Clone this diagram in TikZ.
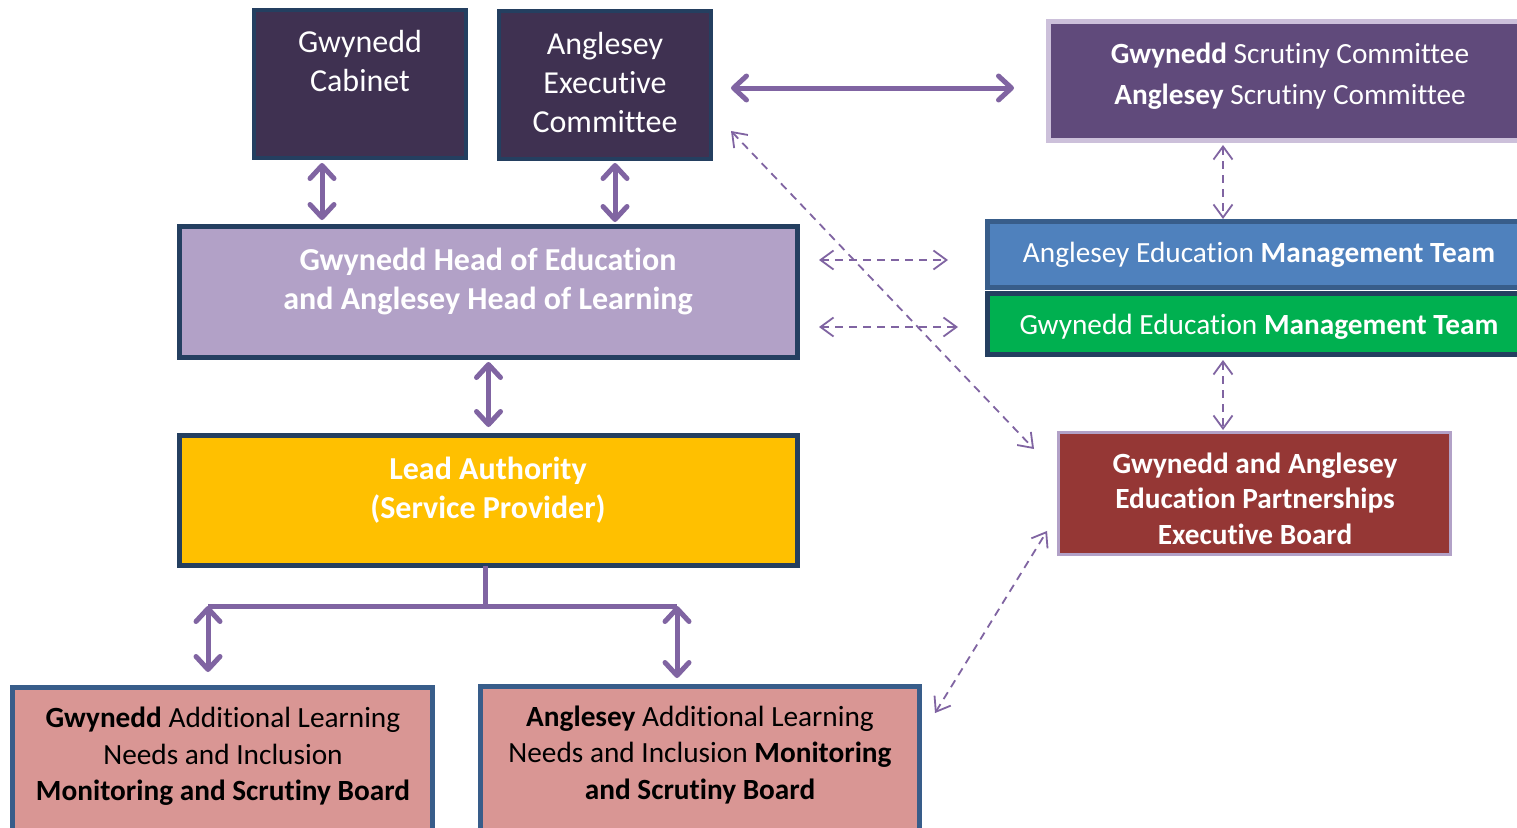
\documentclass[tikz,border=0pt]{standalone}
\usepackage{fontspec}
\setmainfont{Carlito}[Ligatures=NoCommon]
\usetikzlibrary{arrows.meta,calc}
\definecolor{navy}{HTML}{243F60}
\definecolor{cabc}{HTML}{3F3151}
\definecolor{scrc}{HTML}{604A7B}
\definecolor{scrb}{HTML}{CCC0DA}
\definecolor{headc}{HTML}{B2A1C7}
\definecolor{leadc}{HTML}{FFC000}
\definecolor{aemtc}{HTML}{4F81BD}
\definecolor{blueb}{HTML}{385D8A}
\definecolor{gemtc}{HTML}{00B050}
\definecolor{boardc}{HTML}{953735}
\definecolor{alnc}{HTML}{D99694}
\definecolor{arrc}{HTML}{8064A2}
\begin{document}
\begin{tikzpicture}[x=1pt,y=-1pt,
  box/.style={rectangle, inner sep=0pt, outer sep=0pt},
  txtL/.style={align=center, inner sep=0pt, font=\fontsize{32}{39}\selectfont},
  txtS/.style={align=center, inner sep=0pt, font=\fontsize{29.3}{36.5}\selectfont},
  thickarr/.style={draw=arrc, line width=5pt, arrows={Straight Barb[length=13pt,width=24pt,round]-Straight Barb[length=13pt,width=24pt,round]}},
  thickline/.style={draw=arrc, line width=5pt},
  dasharr/.style={draw=arrc, line width=1.8pt, dash pattern=on 8pt off 6pt, arrows={Straight Barb[length=13pt,width=19pt]-Straight Barb[length=13pt,width=19pt]}}
]
\clip (0,0) rectangle (1517,827);
\fill[white] (0,0) rectangle (1517,827);

% boxes
\node[box, fill=cabc, draw=navy, line width=4pt, minimum width=212pt, minimum height=148pt] (cab) at (360,84) {};
\node[box, fill=cabc, draw=navy, line width=4pt, minimum width=212pt, minimum height=148pt] (aec) at (605,85) {};
\node[box, fill=scrc, draw=scrb, line width=5pt, minimum width=486.5pt, minimum height=119pt] (scr) at (1291.75,81) {};
\node[box, fill=headc, draw=navy, line width=5pt, minimum width=618pt, minimum height=131pt] (head) at (488.5,292) {};
\node[box, fill=leadc, draw=navy, line width=5pt, minimum width=618pt, minimum height=130pt] (lead) at (488.5,500.5) {};
\node[box, fill=aemtc, draw=blueb, line width=5pt, minimum width=542.5pt, minimum height=66pt] (aemt) at (1258.75,254.5) {};
\node[box, fill=gemtc, draw=navy, line width=5pt, minimum width=542.5pt, minimum height=61pt] (gemt) at (1258.75,324) {};
\node[box, fill=boardc, draw=headc, line width=3pt, minimum width=392pt, minimum height=122pt] (board) at (1254.5,493.5) {};
\node[box, fill=alnc, draw=blueb, line width=5pt, minimum width=420pt, minimum height=162.5pt] (galn) at (222.5,768.75) {};
\node[box, fill=alnc, draw=blueb, line width=5pt, minimum width=439pt, minimum height=163.5pt] (aaln) at (700,768.25) {};

% texts
\node[txtL, text=white] (cabT) at (360,61.5) {Gwynedd\\Cabinet};
\node[txtL, text=white] (aecT) at (605,82.5) {Anglesey\\Executive\\Committee};
\node[txtS, text=white, font=\fontsize{29.3}{41}\selectfont] (scrT) at (1290,76.5) {\textbf{Gwynedd} Scrutiny Committee\\\textbf{Anglesey} Scrutiny Committee};
\node[txtL, text=white, font=\fontsize{32}{39}\selectfont\bfseries] (headT) at (488,281) {Gwynedd Head of Education\\and Anglesey Head of Learning};
\node[txtL, text=white, font=\fontsize{32}{39}\selectfont\bfseries] (leadT) at (488,490) {Lead Authority\\(Service Provider)};
\node[txtS, text=white] (aemtT) at (1259,255) {Anglesey Education \textbf{Management Team}};
\node[txtS, text=white] (gemtT) at (1259,327) {Gwynedd Education \textbf{Management Team}};
\node[txtS, text=white, font=\fontsize{29.3}{35.5}\selectfont\bfseries] (boardT) at (1255,498.5) {Gwynedd and Anglesey\\Education Partnerships\\Executive Board};
\node[txtS, text=black] (galnT) at (223,756.5) {\textbf{Gwynedd} Additional Learning\\Needs and Inclusion\\\textbf{Monitoring and Scrutiny Board}};
\node[txtS, text=black] (aalnT) at (700,755) {\textbf{Anglesey} Additional Learning\\Needs and Inclusion \textbf{Monitoring}\\\textbf{and Scrutiny Board}};

% solid connectors
\draw[thickarr, shorten <=5pt, shorten >=6.5pt] ([xshift=-38pt]cab.south) -- ([xshift=-38pt]cab.south |- head.north);
\draw[thickarr, shorten <=4pt, shorten >=4.5pt] ([xshift=10pt]aec.south) -- ([xshift=10pt]aec.south |- head.north);
\draw[thickarr, shorten <=20pt, shorten >=34.5pt] ([yshift=-3pt]aec.east) -- ([yshift=-3pt]aec.east -| scr.west);
\draw[thickarr, shorten <=4.5pt, shorten >=8.5pt] (head.south) -- (lead.north);

\coordinate (tl) at (208,606);
\coordinate (tr) at (677,606);
\draw[thickline] ([xshift=-3.5pt]lead.south) -- ([xshift=-3.5pt,yshift=-2pt]lead.south |- tl);
\draw[thickline] (tl) -- (tr);
\draw[thickarr, shorten >=15.5pt] (tl) -- (tl |- galn.north);
\draw[thickarr, shorten >=8.5pt] (tr) -- (tr |- aaln.north);

% dashed connectors
\draw[dasharr, shorten <=21.5pt, shorten >=39.5pt] ([yshift=32pt]head.east) -- ([yshift=32pt]head.east -| aemt.west);
\draw[dasharr, shorten <=21.5pt, shorten >=29.5pt] ([yshift=-35pt]head.east) -- ([yshift=-35pt]head.east -| gemt.west);
\draw[dasharr, shorten <=29pt, shorten >=35.5pt] ([yshift=-25pt]aec.east) -- ([yshift=18.8pt]board.west);
\draw[dasharr, shorten <=4.5pt, shorten >=2.5pt] ([xshift=-68.75pt]scr.south) -- ([xshift=-68.75pt]scr.south |- aemt.north);
\draw[dasharr, shorten <=5.5pt, shorten >=2.5pt] ([xshift=-35.75pt]gemt.south) -- ([xshift=-35.75pt]gemt.south |- board.north);
\draw[dasharr, shorten <=29.6pt, shorten >=21.9pt] ([yshift=30pt]aaln.east) -- ([yshift=-18.8pt]board.west);
\end{tikzpicture}
\end{document}
